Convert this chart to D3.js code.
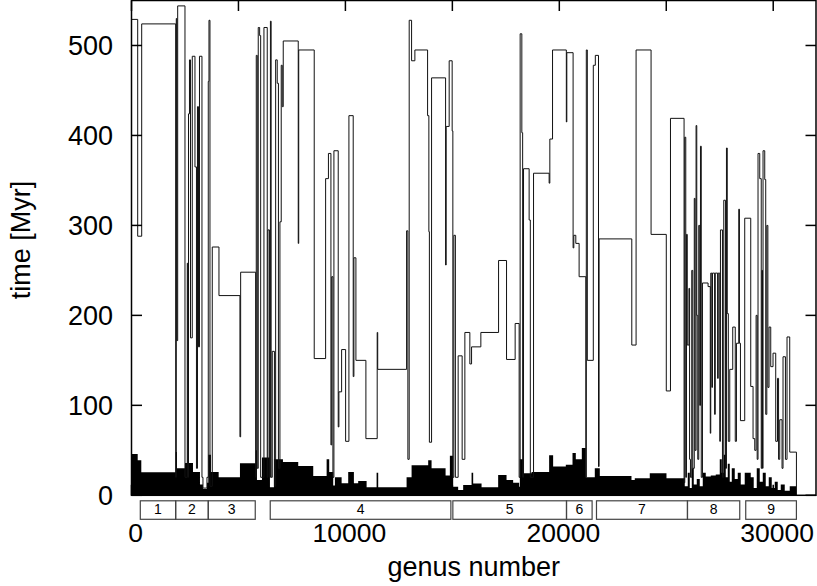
<!DOCTYPE html>
<html><head><meta charset="utf-8">
<script src="https://cdn.jsdelivr.net/npm/d3@7"></script>
<style>body{margin:0;background:#fff}svg{display:block}</style>
</head><body>
<svg id="chart" width="817" height="586"></svg>
<script>
// origination-time step line: genus number and time [Myr]
const lineGenus = [0,290,477,2065,2094,2117,2159,2500,2608,2631,2664,2710,2757,2841,2967,3037,3084,3131,3178,3294,3341,3528,3589,3622,3668,3776,4089,5070,5103,5804,5832,5879,5925,5991,6038,6192,6346,6379,6449,6495,6528,6580,6682,6739,6813,6869,6939,7000,7047,7094,7795,7818,8542,9075,9206,9323,9360,9416,9463,9664,9696,9823,10010,10164,10365,10397,10491,10958,11486,11510,12860,12921,12982,13094,13248,13842,13902,13926,14028,14683,14711,14851,14991,15023,15070,15141,15271,15458,15585,15818,15898,16332,17160,17533,17935,18122,18169,18248,18286,18327,18589,18645,18795,19524,19557,19683,20328,20351,20645,20678,20771,20926,21239,21262,21309,21589,21683,21832,21860,23388,23589,24290,25001,25197,25832,25865,25912,25944,25982,26060,26090,26131,26192,26239,26309,26346,26393,26426,26472,26519,26566,26599,26636,26692,26954,27057,27080,27130,27160,27260,27290,27400,27430,27501,27533,27627,27688,27767,27814,27851,27900,27968,28108,28225,28281,28389,28421,28468,28668,28949,29057,29137,29200,29250,29290,29370,29440,29470,29500,29524,29604,29650,29700,29750,29804,29884,29991,30117,30200,30250,30305,30412,30458,30571,30645,30772,31085];
const lineTime = [529,288,524,20,530,172,544,20,258,20,424,484,175,488,365,30,432,165,488,20,8,20,460,528,10,276,222,65,248,20,489,30,520,511,20,520,20,295,20,527,20,160,10,484,458,30,304,478,432,505,280,495,152,352,380,56,243,20,383,76,115,162,60,422,132,264,150,63,181,140,294,40,528,483,495,422,293,59,464,256,410,483,405,20,289,20,155,40,181,146,165,181,261,151,191,20,513,403,20,363,306,20,358,347,396,495,415,492,275,289,280,243,20,495,150,478,489,32,285,167,495,290,116,419,14,398,20,290,167,230,40,20,250,30,330,50,411,200,40,300,100,388,20,236,232,69,247,120,247,90,247,130,247,60,295,20,328,30,386,202,60,140,187,60,169,318,169,83,308,121,63,50,200,40,380,352,30,250,30,383,351,90,300,120,187,143,158,60,130,40,84,30,154,40,176,48,0];

// dense young-genus band at the bottom (filled)
const floorGenus = [0,290,458,2065,2127,2500,2874,3201,3341,3528,3589,3715,4075,5070,5804,5865,6099,6472,6659,7080,7795,8496,9122,9243,9430,9509,9823,10131,10397,10598,10991,11458,11533,12860,13094,13870,14028,14683,14884,15038,15271,15505,15898,15973,16365,17141,17533,17842,18122,18155,18309,18702,19524,19711,20304,20617,20771,21052,21239,21659,21893,23374,23528,24229,25010,25865,26005,26099,26192,26286,26426,26566,26706,26846,27080,27314,27501,27595,27688,27781,27875,27968,28062,28202,28342,28483,28668,28949,29089,29230,29370,29511,29651,29791,29931,30071,30211,30352,30539,30772,31085];
const floorTime = [46,39,25.5,48,30,36,26,12,7,14,45,26,20,35.5,50,17,42,9,40,37,32.5,21.5,40,26,11,20,13.5,26,13.5,16,9,25,9,20,33.5,39,30,22,44,9.6,6,11.5,25,13,9,22.5,17,14,9.6,40,24.6,26,44.5,32,34,47,40,52.5,20,30,21.5,17,19,24.6,19,10,25,8,30,12,18,10,25,21,22,23,40,25,45,20,35,15,30,18,25,12,25,20,8,30,15,25,10,20,8,15,6,12,5,10,0];

// taxonomic groups below the axis
const groupLabels = ["1","2","3","4","5","6","7","8","9"];
const groupStart = [411,2065,3589,6486,15023,20336,21738,25991,28715];
const groupEnd   = [2065,3589,5785,14930,20336,21533,25991,28435,31084];

const xTicks = [0,5000,10000,15000,20000,25000,30000];
const xTickLabels = [0,10000,20000,30000];
const yTicks = [0,100,200,300,400,500];

const svg = d3.select("#chart");
const x = d3.scaleLinear().domain([0,32000]).range([131.5,816]);
const y = d3.scaleLinear().domain([0,550]).range([495.3,0.5]);
const font = "'Liberation Sans', Arial, Helvetica, sans-serif";

const floorData = floorGenus.map((g,i)=>[g,floorTime[i]]);
svg.append("path")
  .datum(floorData)
  .attr("d", d3.area().x(d=>x(d[0])).y0(y(0)).y1(d=>y(d[1])).curve(d3.curveStepAfter))
  .attr("fill","#000");

const lineData = lineGenus.map((g,i)=>[g,lineTime[i]]);
svg.append("path")
  .datum(lineData)
  .attr("d", d3.line().x(d=>x(d[0])).y(d=>y(d[1])).curve(d3.curveStepAfter))
  .attr("fill","none").attr("stroke","#111").attr("stroke-width",1);

// frame
const x0 = x.range()[0], x1 = x.range()[1], yb = y(0), yt = y.range()[1];
svg.append("rect").attr("x",x0).attr("y",yt).attr("width",x1-x0).attr("height",yb-yt)
  .attr("fill","none").attr("stroke","#000").attr("stroke-width",1.5);

// ticks (inward, mirrored)
const tl = 10.5;
yTicks.forEach(v=>{
  svg.append("line").attr("x1",x0).attr("x2",x0+tl).attr("y1",y(v)).attr("y2",y(v)).attr("stroke","#000").attr("stroke-width",1.5);
  svg.append("line").attr("x1",x1).attr("x2",x1-tl).attr("y1",y(v)).attr("y2",y(v)).attr("stroke","#000").attr("stroke-width",1.5);
  svg.append("text").attr("x",113).attr("y",y(v)+9.5).attr("text-anchor","end")
    .attr("font-family",font).attr("font-size",27).attr("fill","#000").text(v);
});
xTicks.forEach(v=>{
  svg.append("line").attr("x1",x(v)).attr("x2",x(v)).attr("y1",yt).attr("y2",yt+tl).attr("stroke","#000").attr("stroke-width",1.5);
  svg.append("line").attr("x1",x(v)).attr("x2",x(v)).attr("y1",yb).attr("y2",yb-tl).attr("stroke","#000").attr("stroke-width",1.5);
});
xTickLabels.forEach(v=>{
  svg.append("text").attr("x",x(v)+4).attr("y",541.5).attr("text-anchor","middle")
    .attr("font-family",font).attr("font-size",26.5).attr("fill","#000").text(v);
});

// group boxes
groupLabels.forEach((lab,i)=>{
  const a = x(groupStart[i]), b = x(groupEnd[i]);
  svg.append("rect").attr("x",a).attr("y",500.8).attr("width",b-a).attr("height",18.5)
    .attr("fill","none").attr("stroke","#444").attr("stroke-width",1.2);
  svg.append("text").attr("x",(a+b)/2).attr("y",513.5).attr("text-anchor","middle")
    .attr("font-family",font).attr("font-size",14).attr("fill","#000").text(lab);
});

// axis titles
svg.append("text").attr("x",(x0+x1)/2).attr("y",576).attr("text-anchor","middle")
  .attr("font-family",font).attr("font-size",27).attr("fill","#000").text("genus number");
svg.append("text").attr("transform","translate(30,240) rotate(-90)").attr("text-anchor","middle")
  .attr("font-family",font).attr("font-size",27).attr("fill","#000").text("time [Myr]");
</script>
</body></html>
